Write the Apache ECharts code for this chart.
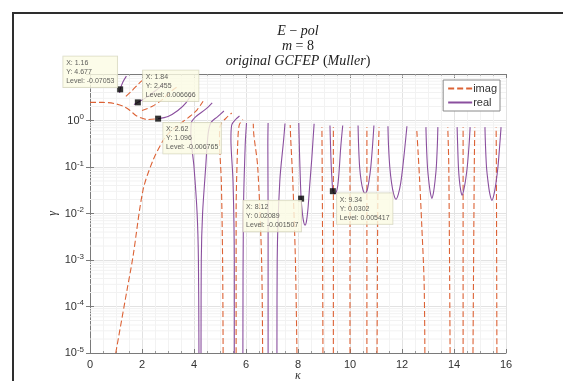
<!DOCTYPE html>
<html>
<head>
<meta charset="utf-8">
<script src="https://cdn.jsdelivr.net/npm/echarts@6/dist/echarts.min.js"></script>
<style>
  html, body { margin: 0; padding: 0; background: #fff; }
  #gamma_charts { width: 563px; height: 381px; }
</style>
</head>
<body>
<div id="gamma_charts"></div>
<script>
// kappa / gamma points of the zero contours
const imagCurves = [
  [[0, 2.45], [0.5, 2.45], [0.96, 2.3], [1.3, 2.0], [1.54, 1.64], [1.75, 1.3], [1.92, 1.16], [2.19, 1.05], [2.5, 1.08]],
  [[1.38, 3.3], [1.62, 4.4], [1.85, 6.0], [2.0, 7.2]],
  [[2.0, 1.64], [2.38, 2.0], [2.81, 2.9], [3.15, 4.4], [3.38, 5.4]],
  [[0.99, 1e-5], [1.42, 2.2e-4], [1.65, 1.15e-3], [2.04, 0.032], [2.42, 0.138], [2.81, 0.37], [3.05, 0.55], [3.3, 0.72], [3.58, 0.95], [3.9, 1.3], [4.12, 1.7], [4.35, 2.6]],
  [[5.12, 1e-5], [5.1, 1e-3], [5.05, 0.05], [4.98, 0.4], [5.02, 0.8], [5.25, 1.15], [5.45, 1.45]],
  [[5.62, 1e-5], [5.62, 1e-2], [5.68, 0.3], [5.74, 0.8], [5.88, 1.05]],
  [[6.64, 1e-5], [6.6, 1e-3], [6.45, 0.1], [6.3, 0.5], [6.28, 0.85]],
  [[7.96, 1e-5], [7.9, 1e-3], [7.8, 0.05], [7.72, 0.4], [7.7, 0.8]],
  [[8.96, 1e-5], [8.94, 0.01], [8.92, 0.72]],
  [[9.36, 1e-5], [9.36, 0.01], [9.36, 0.72]],
  [[10.0, 1e-5], [10.0, 0.72]],
  [[10.65, 1e-5], [10.65, 0.72]],
  [[11.04, 1e-5], [11.08, 0.1], [11.12, 0.72]],
  [[12.88, 1e-5], [12.85, 3.4e-4], [12.76, 0.0056], [12.68, 0.05], [12.62, 0.2], [12.57, 0.6]],
  [[13.85, 1e-5], [13.8, 0.1], [13.76, 0.72]],
  [[14.35, 1e-5], [14.35, 0.72]],
  [[14.73, 1e-5], [14.78, 0.1], [14.8, 0.72]],
  [[15.65, 1e-5], [15.63, 0.1], [15.62, 0.72]]
];

const realCurves = [
  [[1.14, 3.9], [1.16, 4.677], [1.27, 6.8], [1.4, 9.0]],
  [[1.69, 2.2], [1.84, 2.455], [2.23, 3.3], [2.62, 4.86], [2.88, 6.2]],
  [[2.62, 1.096], [3.0, 1.22], [3.38, 1.64], [3.69, 2.4], [3.92, 3.8]],
  [[4.19, 1e-5], [4.17, 1e-3], [4.12, 0.01], [4.0, 0.1], [3.88, 0.5], [3.9, 0.9], [4.1, 1.25], [4.45, 1.75], [4.7, 2.4]],
  [[4.27, 1e-5], [4.28, 1e-3], [4.33, 0.01], [4.45, 0.1], [4.54, 0.5], [4.65, 0.9], [4.9, 1.2], [5.15, 1.6]],
  [[5.55, 1e-5], [5.55, 1e-3], [5.5, 0.05], [5.42, 0.4], [5.45, 0.8], [5.6, 1.05], [5.75, 1.25]],
  [[5.88, 1e-5], [5.9, 1e-2], [5.97, 0.3], [6.02, 0.88]],
  [[6.85, 1e-5], [6.85, 1e-2], [6.84, 0.3], [6.85, 0.88]],
  [[7.19, 1e-5], [7.2, 1e-3], [7.3, 0.05], [7.45, 0.4], [7.5, 0.86]],
  [[8.03, 0.88], [8.05, 0.3], [8.08, 0.08], [8.12, 0.02089], [8.17, 0.01], [8.22, 0.0065], [8.27, 0.0056], [8.32, 0.0065], [8.38, 0.012], [8.45, 0.04], [8.53, 0.15], [8.58, 0.4], [8.62, 0.85]],
  [[9.23, 0.78], [9.25, 0.3], [9.28, 0.1], [9.31, 0.05], [9.34, 0.0302], [9.38, 0.0275], [9.42, 0.0266], [9.47, 0.0285], [9.53, 0.04], [9.58, 0.08], [9.64, 0.25], [9.72, 0.78]],
  [[10.31, 0.78], [10.33, 0.3], [10.37, 0.1], [10.43, 0.05], [10.5, 0.032], [10.58, 0.027], [10.66, 0.032], [10.73, 0.05], [10.8, 0.1], [10.87, 0.3], [10.92, 0.78]],
  [[11.46, 0.75], [11.48, 0.3], [11.53, 0.1], [11.6, 0.045], [11.68, 0.026], [11.77, 0.0202], [11.86, 0.026], [11.95, 0.045], [12.03, 0.1], [12.12, 0.3], [12.19, 0.75]],
  [[12.92, 0.72], [12.94, 0.3], [12.98, 0.1], [13.03, 0.05], [13.09, 0.028], [13.15, 0.0212], [13.21, 0.028], [13.27, 0.05], [13.32, 0.1], [13.36, 0.3], [13.38, 0.72]],
  [[14.12, 0.72], [14.14, 0.3], [14.17, 0.1], [14.21, 0.05], [14.26, 0.031], [14.31, 0.0246], [14.37, 0.031], [14.44, 0.05], [14.51, 0.1], [14.58, 0.3], [14.62, 0.72]],
  [[15.19, 0.72], [15.21, 0.3], [15.25, 0.1], [15.31, 0.048], [15.38, 0.026], [15.46, 0.0192], [15.54, 0.026], [15.62, 0.048], [15.69, 0.1], [15.76, 0.3], [15.81, 0.72]]
];

// data tips
const tipX = [1.16, 1.84, 2.62, 8.12, 9.34];
const tipY = [4.677, 2.455, 1.096, 0.02089, 0.0302];
const tipLevel = ['-0.07053', '0.006666', '-0.006765', '-0.001507', '0.005417'];
const tipOffset = [[-54, -30], [8, -29], [8, 7], [-55, 5], [7, 5]];

const yDecades = [-5, -4, -3, -2, -1, 0];

const imagColor = '#dc6235';
const realColor = '#8a4f9e';
const labelFont = 'Liberation Sans, Arial, sans-serif';

// minor log grid values (2..9 per decade)
let minorY = [];
yDecades.forEach(e => {
  for (let m = 2; m <= 9; m++) minorY.push(m * Math.pow(10, e));
});

let chart = echarts.init(document.getElementById('gamma_charts'), null, { renderer: 'canvas' });

let series = [];
minorY.forEach(v => {
  series.push({
    name: 'minor',
    type: 'line',
    data: [[0, v], [16, v]],
    symbol: 'none',
    silent: true,
    z: 1,
    lineStyle: { color: '#f2f2f2', width: 1 }
  });
});
imagCurves.forEach(c => {
  series.push({
    name: 'imag',
    type: 'line',
    data: c,
    smooth: 0.3,
    symbol: 'none',
    z: 3,
    lineStyle: { color: imagColor, width: 1.1, type: [6, 3] },
    itemStyle: { color: imagColor }
  });
});
realCurves.forEach(c => {
  series.push({
    name: 'real',
    type: 'line',
    data: c,
    smooth: 0.3,
    symbol: 'none',
    z: 4,
    lineStyle: { color: realColor, width: 1.1 },
    itemStyle: { color: realColor }
  });
});
series.push({
  name: 'tips',
  type: 'scatter',
  z: 10,
  symbol: 'rect',
  symbolSize: 6,
  itemStyle: { color: '#000' },
  data: tipX.map((x, i) => ({
    value: [x, tipY[i]],
    label: {
      show: true,
      position: tipOffset[i],
      align: 'left',
      verticalAlign: 'top',
      formatter: 'X: ' + x + '\nY: ' + tipY[i] + '\nLevel: ' + tipLevel[i],
      backgroundColor: '#fbfbe4',
      borderColor: '#c9c9b0',
      borderWidth: 0.6,
      padding: [2, 3],
      fontSize: 7,
      lineHeight: 9,
      color: '#333',
      fontFamily: labelFont
    }
  }))
});

const option = {
  animation: false,
  backgroundColor: '#fff',
  grid: { left: 90, right: 57, top: 74, bottom: 28, show: false, outerBoundsMode: 'none' },
  legend: {
    data: ['imag', 'real'],
    orient: 'vertical',
    right: 63,
    top: 80,
    itemWidth: 24,
    itemHeight: 10,
    itemGap: 3,
    padding: [3, 3, 3, 4],
    borderColor: '#8a8a8a',
    borderWidth: 1,
    backgroundColor: '#fff',
    itemStyle: { opacity: 0 },
    textStyle: { fontSize: 11, color: '#333', fontFamily: labelFont, padding: [0, 0, 0, -4] }
  },
  xAxis: [
    {
      type: 'value', min: 0, max: 16, interval: 2,
      name: 'κ', nameLocation: 'middle', nameGap: 17, nameMoveOverlap: false,
      nameTextStyle: { fontFamily: 'Liberation Serif', fontStyle: 'italic', fontSize: 12, color: '#333' },
      axisLine: { show: true, lineStyle: { color: '#7a7a7a' } },
      axisTick: { inside: true, length: 4, lineStyle: { color: '#7a7a7a' } },
      minorTick: { show: true, splitNumber: 4, length: 2, lineStyle: { color: '#9a9a9a' } },
      axisLabel: { fontSize: 11, color: '#333', fontFamily: labelFont, margin: 6 },
      splitLine: { show: true, lineStyle: { color: '#e2e2e2' } },
      minorSplitLine: { show: true, lineStyle: { color: '#f2f2f2' } }
    },
    {
      type: 'value', min: 0, max: 16, interval: 2, position: 'top',
      axisLine: { show: true, lineStyle: { color: '#7a7a7a' } },
      axisTick: { inside: true, length: 4, lineStyle: { color: '#7a7a7a' } },
      minorTick: { show: true, splitNumber: 4, length: 2, lineStyle: { color: '#9a9a9a' } },
      axisLabel: { show: false },
      splitLine: { show: false }
    }
  ],
  yAxis: [
    {
      type: 'log', logBase: 10, min: 1e-5, max: 10,
      name: 'γ', nameLocation: 'middle', nameGap: 31, nameRotate: 90, nameMoveOverlap: false,
      nameTextStyle: { fontFamily: 'Liberation Serif', fontStyle: 'italic', fontSize: 12, color: '#333' },
      axisLine: { show: true, lineStyle: { color: '#7a7a7a' } },
      axisTick: { inside: true, length: 4, lineStyle: { color: '#7a7a7a' } },
      axisLabel: {
        margin: 6,
        formatter: v => {
          const e = Math.round(Math.log10(v));
          if (e > 0) return '';
          return '{b|10}{sup|' + e + '}';
        },
        rich: {
          b: { fontSize: 11, color: '#333', fontFamily: labelFont },
          sup: { fontSize: 8, color: '#333', fontFamily: labelFont, verticalAlign: 'top', padding: [0, 0, 7, 0] }
        }
      },
      splitLine: { show: true, lineStyle: { color: '#e2e2e2' } }
    },
    {
      type: 'log', logBase: 10, min: 1e-5, max: 10, position: 'right',
      axisLine: { show: true, lineStyle: { color: '#7a7a7a' } },
      axisTick: { inside: true, length: 4, lineStyle: { color: '#7a7a7a' } },
      axisLabel: { show: false },
      splitLine: { show: false }
    }
  ],
  graphic: [
    {
      type: 'rect', silent: true,
      shape: { x: 13, y: 13, width: 620, height: 420 },
      style: { fill: null, stroke: '#2e2e2e', lineWidth: 2 }
    },
    {
      type: 'text', x: 298, y: 24, silent: true,
      style: {
        text: '{i|E} − {i|pol}\n{i|m} = 8\n{i|original GCFEP} ({i|Muller})',
        textAlign: 'center',
        fontFamily: 'Liberation Serif', fontSize: 14, lineHeight: 15, fill: '#222',
        rich: { i: { fontStyle: 'italic', fontFamily: 'Liberation Serif', fontSize: 14 } }
      }
    }
  ],
  series: series
};

chart.setOption(option);
window.addEventListener('resize', () => {
  chart.resize();
});
</script>
</body>
</html>
